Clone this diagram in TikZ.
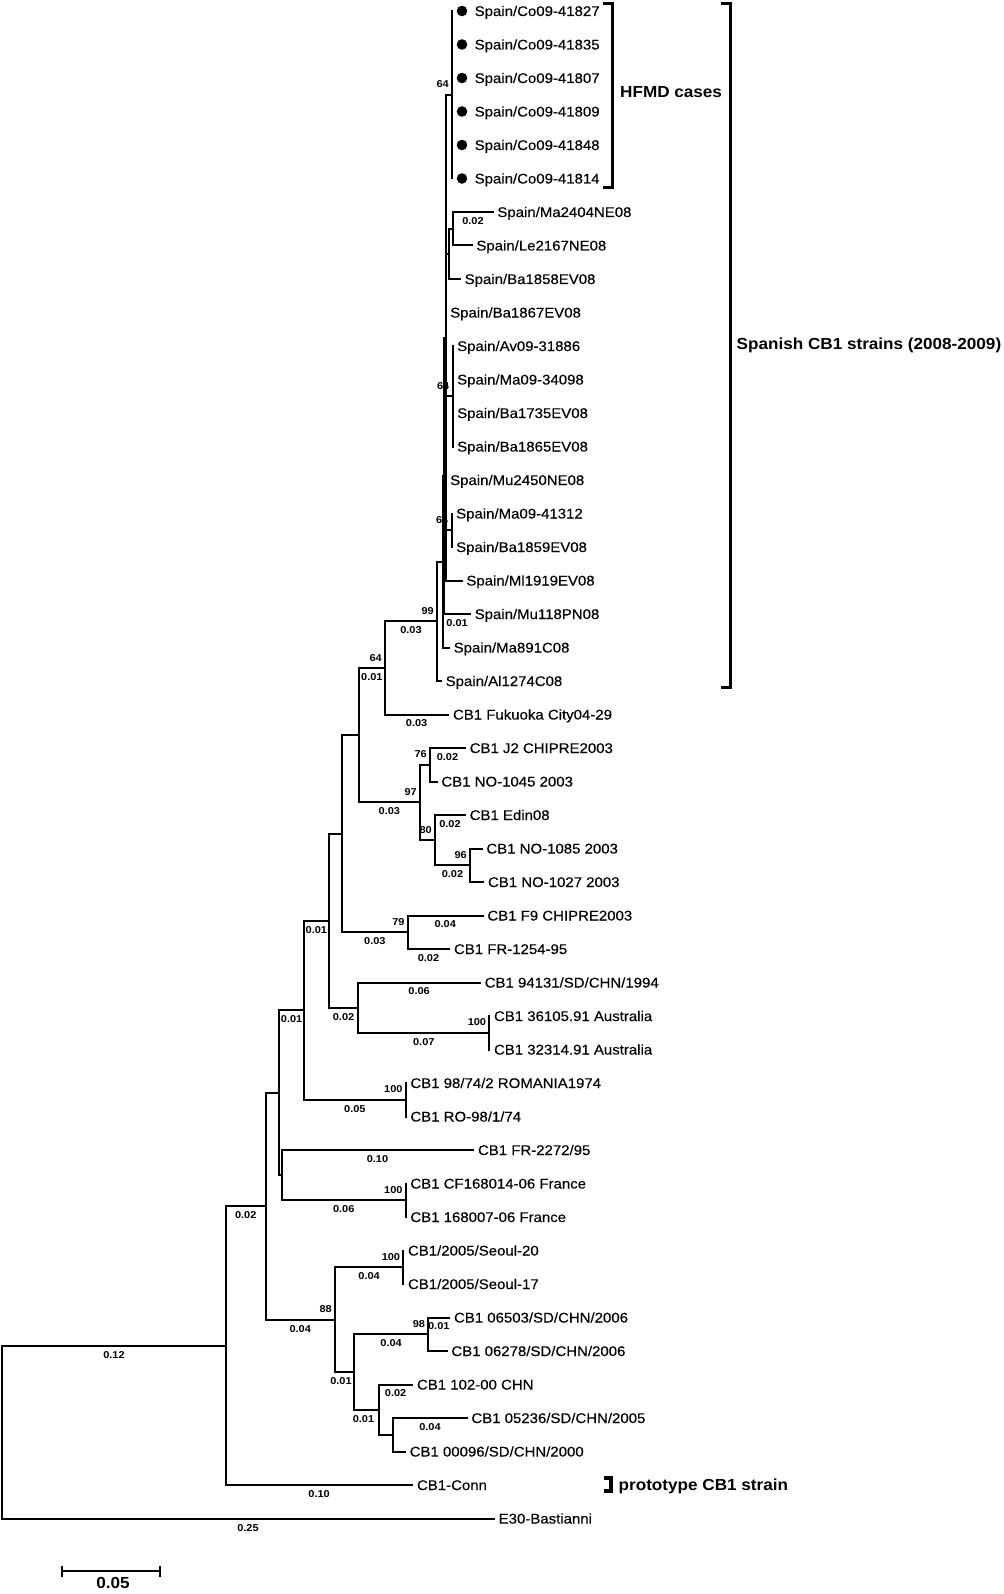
\documentclass[tikz,border=0pt]{standalone}
\usepackage{fontspec}
\setmainfont{Liberation Sans}
\newfontfamily\tipfont{Liberation Sans}[FakeStretch=1.07, FakeBold=0.25]
\newfontfamily\bigfont{Liberation Sans}[FakeStretch=1.07]
\newfontfamily\lblfont{Liberation Sans}[FakeStretch=1.1]
\usetikzlibrary{calc}
\begin{document}
\begin{tikzpicture}[x=1pt,y=-1pt,
  br/.style={line width=2pt, line cap=rect},
  tip/.style={anchor=west, inner xsep=4.5pt, inner ysep=0pt, text height=10pt, text depth=0pt, font=\tipfont\fontsize{14}{16}\selectfont},
  bl/.style={font=\lblfont\bfseries\fontsize{10}{12}\selectfont, inner sep=0pt, anchor=north, yshift=-4.5pt},
  bs/.style={font=\lblfont\bfseries\fontsize{10}{12}\selectfont, inner sep=0pt, anchor=south east, xshift=-3pt, yshift=6.5pt},
  dot/.style={circle, fill=black, inner sep=0pt, minimum size=10.6pt},
  bracket/.style={line width=3.6pt, line cap=butt, line join=miter},
  big/.style={font=\bigfont\bfseries\fontsize{16}{19}\selectfont, anchor=west, inner sep=0pt, text height=11.5pt, text depth=0pt}]
\useasboundingbox (0,0) rectangle (1003,1594);

% ---------- internal nodes ----------
\coordinate (root) at (2,1432);
\coordinate (nA) at (226,1345.6);
\coordinate (nB) at (265.5,1206.2);
\coordinate (nC) at (279.3,1092.7);
\coordinate (nE) at (304,1010.2);
\coordinate (nF) at (281.7,1175.1);
\coordinate (nG) at (405.7,1200.25);
\coordinate (nH) at (405.7,1099.75);
\coordinate (nI) at (328.8,920.7);
\coordinate (nJ) at (358.3,1007.6);
\coordinate (nK) at (489.3,1032.75);
\coordinate (nL) at (342,833.7);
\coordinate (nN) at (407.7,932.25);
\coordinate (nP) at (358.7,735.2);
\coordinate (nQ) at (385,667.9);
\coordinate (nR) at (420,802.4);
\coordinate (nT) at (430,764.75);
\coordinate (nU) at (435,840.1);
\coordinate (nV) at (470,865.25);
\coordinate (nS) at (437,621.35);
\coordinate (nW) at (443.3,561.7);
\coordinate (nWa) at (444.3,475.8);
\coordinate (nWb) at (445.5,337.6);
\coordinate (nHF) at (452,94.75);
\coordinate (nXa) at (449.3,253.9);
\coordinate (nXb) at (453.3,228.75);
\coordinate (nYa) at (452.5,396.25);
\coordinate (nYb) at (451.5,530.25);
\coordinate (nM) at (335,1319.6);
\coordinate (nSe) at (403.3,1267.25);
\coordinate (nO) at (354,1371.9);
\coordinate (nOa) at (428.3,1334.25);
\coordinate (nOb) at (379,1409.6);
\coordinate (nOc) at (393.3,1434.75);

% ---------- tips ----------
\node[dot] (d1) at (462,11) {};
\node[dot] (d2) at (462,44.5) {};
\node[dot] (d3) at (462,78) {};
\node[dot] (d4) at (462,111.5) {};
\node[dot] (d5) at (462,145) {};
\node[dot] (d6) at (462,178.5) {};
\node[tip] (t1) at ([xshift=2.5pt]d1.east) {Spain/Co09-41827};
\node[tip] (t2) at ([xshift=2.5pt]d2.east) {Spain/Co09-41835};
\node[tip] (t3) at ([xshift=2.5pt]d3.east) {Spain/Co09-41807};
\node[tip] (t4) at ([xshift=2.5pt]d4.east) {Spain/Co09-41809};
\node[tip] (t5) at ([xshift=2.5pt]d5.east) {Spain/Co09-41848};
\node[tip] (t6) at ([xshift=2.5pt]d6.east) {Spain/Co09-41814};
\node[tip] (t7) at (492.7,212) {Spain/Ma2404NE08};
\node[tip] (t8) at (471.7,245.5) {Spain/Le2167NE08};
\node[tip] (t9) at (460,279) {Spain/Ba1858EV08};
\node[tip] (t10) at (445.5,312.5) {Spain/Ba1867EV08};
\node[tip] (t11) at (452.5,346) {Spain/Av09-31886};
\node[tip] (t12) at (452.5,379.5) {Spain/Ma09-34098};
\node[tip] (t13) at (452.5,413) {Spain/Ba1735EV08};
\node[tip] (t14) at (452.5,446.5) {Spain/Ba1865EV08};
\node[tip] (t15) at (445.5,480) {Spain/Mu2450NE08};
\node[tip] (t16) at (451.5,513.5) {Spain/Ma09-41312};
\node[tip] (t17) at (451.5,547) {Spain/Ba1859EV08};
\node[tip] (t18) at (461.7,580.5) {Spain/Ml1919EV08};
\node[tip] (t19) at (470,614) {Spain/Mu118PN08};
\node[tip] (t20) at (449,647.5) {Spain/Ma891C08};
\node[tip] (t21) at (441,681) {Spain/Al1274C08};
\node[tip] (t22) at (448.3,714.5) {CB1 Fukuoka City04-29};
\node[tip] (t23) at (465,748) {CB1 J2 CHIPRE2003};
\node[tip] (t24) at (436.7,781.5) {CB1 NO-1045 2003};
\node[tip] (t25) at (465,815) {CB1 Edin08};
\node[tip] (t26) at (481.7,848.5) {CB1 NO-1085 2003};
\node[tip] (t27) at (483.3,882) {CB1 NO-1027 2003};
\node[tip] (t28) at (482.7,915.5) {CB1 F9 CHIPRE2003};
\node[tip] (t29) at (449.3,949) {CB1 FR-1254-95};
\node[tip] (t30) at (480,982.5) {CB1 94131/SD/CHN/1994};
\node[tip] (t31) at (489.3,1016) {CB1 36105.91 Australia};
\node[tip] (t32) at (489.3,1049.5) {CB1 32314.91 Australia};
\node[tip] (t33) at (405.7,1083) {CB1 98/74/2 ROMANIA1974};
\node[tip] (t34) at (405.7,1116.5) {CB1 RO-98/1/74};
\node[tip] (t35) at (473.3,1150) {CB1 FR-2272/95};
\node[tip] (t36) at (405.7,1183.5) {CB1 CF168014-06 France};
\node[tip] (t37) at (405.7,1217) {CB1 168007-06 France};
\node[tip] (t38) at (403.3,1250.5) {CB1/2005/Seoul-20};
\node[tip] (t39) at (403.3,1284) {CB1/2005/Seoul-17};
\node[tip] (t40) at (449.3,1317.5) {CB1 06503/SD/CHN/2006};
\node[tip] (t41) at (446.7,1351) {CB1 06278/SD/CHN/2006};
\node[tip] (t42) at (412.3,1384.5) {CB1 102-00 CHN};
\node[tip] (t43) at (466.7,1418) {CB1 05236/SD/CHN/2005};
\node[tip] (t44) at (405,1451.5) {CB1 00096/SD/CHN/2000};
\node[tip] (t45) at (412.3,1485) {CB1-Conn};
\node[tip] (t46) at (494,1518.5) {E30-Bastianni};

% ---------- branches ----------
\draw[br] (root) |- (nA) node[pos=0.75,bl] (l1) {0.12};
\draw[br] (root) |- (t46.west) node[pos=0.75,bl] (l2) {0.25};
\draw[br] (nA) |- (nB) node[pos=0.75,bl] (l3) {0.02};
\draw[br] (nA) |- (t45.west) node[pos=0.75,bl] (l4) {0.10};
\draw[br] (nB) |- (nC);
\draw[br] (nB) |- (nM) node[pos=0.75,bl] (l5) {0.04};
\draw[br] (nC) |- (nE) node[pos=0.75,bl] (l6) {0.01};
\draw[br] (nC) |- (nF);
\draw[br] (nE) |- (nI) node[pos=0.75,bl] (l7) {0.01};
\draw[br] (nE) |- (nH) node[pos=0.75,bl] (l8) {0.05};
\draw[br] (nH) |- (t33.west) (nH) |- (t34.west);
\draw[br] (nI) |- (nL);
\draw[br] (nI) |- (nJ) node[pos=0.75,bl] (l9) {0.02};
\draw[br] (nJ) |- (t30.west) node[pos=0.75,bl] (l10) {0.06};
\draw[br] (nJ) |- (nK) node[pos=0.75,bl] (l11) {0.07};
\draw[br] (nK) |- (t31.west) (nK) |- (t32.west);
\draw[br] (nL) |- (nP);
\draw[br] (nL) |- (nN) node[pos=0.75,bl] (l12) {0.03};
\draw[br] (nN) |- (t28.west) node[pos=0.75,bl] (l13) {0.04};
\draw[br] (nN) |- (t29.west) node[pos=0.75,bl] (l14) {0.02};
\draw[br] (nP) |- (nQ) node[pos=0.75,bl] (l15) {0.01};
\draw[br] (nP) |- (nR) node[pos=0.75,bl] (l16) {0.03};
\draw[br] (nQ) |- (nS) node[pos=0.75,bl] (l17) {0.03};
\draw[br] (nQ) |- (t22.west) node[pos=0.75,bl] (l18) {0.03};
\draw[br] (nR) |- (nT) (nR) |- (nU);
\draw[br] (nT) |- (t23.west) node[pos=0.75,bl] (l19) {0.02};
\draw[br] (nT) |- (t24.west);
\draw[br] (nU) |- (t25.west) node[pos=0.75,bl] (l20) {0.02};
\draw[br] (nU) |- (nV) node[pos=0.75,bl] (l21) {0.02};
\draw[br] (nV) |- (t26.west) (nV) |- (t27.west);
\draw[br] (nF) |- (t35.west) node[pos=0.75,bl] (l22) {0.10};
\draw[br] (nF) |- (nG) node[pos=0.75,bl] (l23) {0.06};
\draw[br] (nG) |- (t36.west) (nG) |- (t37.west);
\draw[br] (nM) |- (nSe) node[pos=0.75,bl] (l24) {0.04};
\draw[br] (nM) |- (nO) node[pos=0.75,bl,xshift=-3.5pt] (l25) {0.01};
\draw[br] (nSe) |- (t38.west) (nSe) |- (t39.west);
\draw[br] (nO) |- (nOa) node[pos=0.75,bl] (l26) {0.04};
\draw[br] (nO) |- (nOb) node[pos=0.75,bl,xshift=-3pt] (l27) {0.01};
\draw[br] (nOa) |- (t40.west) node[pos=0.75,bl] (l28) {0.01};
\draw[br] (nOa) |- (t41.west);
\draw[br] (nOb) |- (t42.west) node[pos=0.75,bl] (l29) {0.02};
\draw[br] (nOb) |- (nOc);
\draw[br] (nOc) |- (t43.west) node[pos=0.75,bl] (l30) {0.04};
\draw[br] (nOc) |- (t44.west);
% Spanish clade
\draw[br] (nS) |- (nW) (nS) |- (t21.west);
\draw[br] (nW) |- (nWa) (nW) |- (t20.west);
\draw[br] (nWa) |- (nWb);
\draw[br] (nWa) |- (t19.west) node[pos=0.75,bl] (l31) {0.01};
\draw[br] (nWb) |- (nHF) (nWb) |- (nXa) (nWb) |- (t10.west) (nWb) |- (nYa)
          (nWb) |- (t15.west) (nWb) |- (nYb) (nWb) |- (t18.west);
\draw[br] (nXa) |- (nXb) (nXa) |- (t9.west);
\draw[br] (nXb) |- (t7.west) node[pos=0.75,bl] (l32) {0.02};
\draw[br] (nXb) |- (t8.west);
\draw[br] (nYa) |- (t11.west) (nYa) |- (t12.west) (nYa) |- (t13.west) (nYa) |- (t14.west);
\draw[br] (nYb) |- (t16.west) (nYb) |- (t17.west);
\draw[br] (nHF |- d1) -- (nHF |- d6);

% ---------- bootstrap values ----------
\node[bs] (b1) at (nHF) {64};
\node[bs] (b2) at (nYa) {64};
\node[bs] (b3) at (nYb) {64};
\node[bs] (b4) at (nS) {99};
\node[bs] (b5) at (nQ) {64};
\node[bs] (b6) at (nT) {76};
\node[bs] (b7) at (nR) {97};
\node[bs] (b8) at (nU) {80};
\node[bs] (b9) at (nV) {96};
\node[bs] (b10) at (nN) {79};
\node[bs] (b11) at (nK) {100};
\node[bs] (b12) at (nH) {100};
\node[bs] (b13) at (nG) {100};
\node[bs] (b14) at (nSe) {100};
\node[bs] (b15) at (nM) {88};
\node[bs] (b16) at (nOa) {98};

% ---------- brackets and group labels ----------
\draw[bracket] (602.5,3.5) -- (612.5,3.5) -- (612.5,187.5) -- (602.5,187.5);
\node[big] (hfmd) at (620,92) {HFMD cases};
\draw[bracket] (720.5,3.5) -- (730.5,3.5) -- (730.5,687.5) -- (720.5,687.5);
\node[big] (spn) at (736.5,343.5) {Spanish CB1 strains (2008-2009)};
\draw[bracket, line width=4pt] (603.5,1477.5) -- (611,1477.5) -- (611,1490.5) -- (603.5,1490.5);
\node[big] (proto) at (618.5,1484.5) {prototype CB1 strain};

% ---------- scale bar ----------
\coordinate (sba) at (62,1571);
\coordinate (sbb) at (159.5,1571);
\draw[line width=2pt] (sba) -- (sbb);
\draw[line width=2pt] ([yshift=5.5pt]sba) -- ([yshift=-5.5pt]sba);
\draw[line width=2pt] ([yshift=5.5pt]sbb) -- ([yshift=-5.5pt]sbb);
\node[font=\bigfont\bfseries\fontsize{16}{19}\selectfont, inner sep=0pt] (sbl) at (113,1583) {0.05};
\end{tikzpicture}
\end{document}
